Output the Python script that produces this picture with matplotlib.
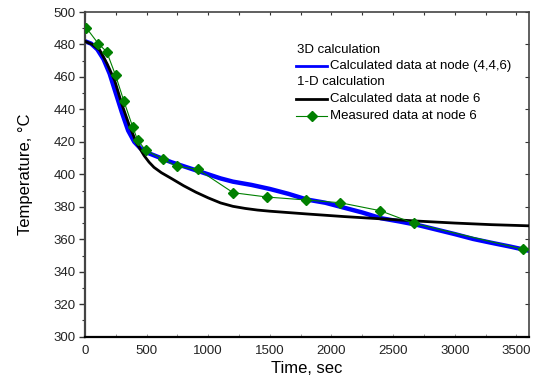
import matplotlib
matplotlib.use('Agg')
import matplotlib.pyplot as plt
from matplotlib.ticker import MultipleLocator
from matplotlib.lines import Line2D

plt.rcParams['font.family'] = ['Liberation Sans', 'DejaVu Sans']

# ── Data ──────────────────────────────────────────────────
t_3d = [0, 50, 100, 150, 200, 250, 300, 350, 400, 450, 500, 600, 700, 800,
        900, 1000, 1100, 1200, 1350, 1500, 1650, 1800, 1950, 2100, 2250,
        2400, 2550, 2700, 2850, 3000, 3150, 3300, 3450, 3600]
temp_3d = [482, 480.5, 477, 471, 462, 450, 438, 427, 420, 416, 413.5, 410.5,
           407.5, 405, 402.5, 400, 397.5, 395.5, 393.5, 391, 388, 384.5,
           382.5, 379.5, 376.5, 373, 371, 368.8, 366, 363.2, 360.2, 357.8,
           355.5, 353]

t_1d = [0, 60, 120, 180, 240, 300, 360, 420, 480, 520, 560, 620, 700, 800,
        900, 1000, 1100, 1200, 1300, 1400, 1500, 1800, 2100, 2400, 2700,
        3000, 3300, 3600]
temp_1d = [482, 480, 476.5, 468, 458, 443, 430, 419, 411.5, 407.5, 404.3,
           401, 397.5, 393, 389, 385.5, 382.4, 380.3, 379, 378, 377.3, 375.6,
           374, 372.6, 371.2, 370, 369, 368.3]

t_meas = [10, 108, 176, 248, 316, 388, 426, 492, 630, 743, 918, 1202, 1480,
          1796, 2072, 2396, 2669, 3557]
temp_meas = [490.3, 480.5, 475.5, 461, 445, 429, 421.3, 414.8, 409.5, 405,
             403, 388.7, 386, 384.2, 382.5, 377.6, 369.8, 353.8]

BLUE = '#0000ff'
GREEN = '#008000'

fig = plt.figure(figsize=(5.37, 3.90), dpi=100)
ax = fig.add_axes([0.1583, 0.1367, 0.8262, 0.8325])

ax.plot(t_3d, temp_3d, color=BLUE, lw=3.2, solid_joinstyle='round', zorder=2)
ax.plot(t_1d, temp_1d, color='black', lw=2.0, zorder=3)
ax.plot(t_meas, temp_meas, color=GREEN, lw=0.8, marker='D', markersize=5.5,
        markerfacecolor=GREEN, markeredgecolor=GREEN, zorder=4)

ax.set_xlim(0, 3600)
ax.set_ylim(300, 500)
ax.xaxis.set_major_locator(MultipleLocator(500))
ax.xaxis.set_minor_locator(MultipleLocator(250))
ax.yaxis.set_major_locator(MultipleLocator(20))
ax.yaxis.set_minor_locator(MultipleLocator(10))

# Origin-style ticks: outward on the left, inward mirrors on top/right
ax.tick_params(axis='y', which='major', direction='out', length=4.5, width=1,
               labelsize=9.5, pad=2, right=False, colors='#333333',
               labelcolor='#222222')
ax.tick_params(axis='y', which='minor', direction='out', length=2.5, width=0.8,
               colors='#333333')
ax.tick_params(axis='x', which='both', direction='in', length=2, width=0.6,
               labelsize=9.5, pad=6, colors='#888888', labelcolor='#222222')
sec_r = ax.secondary_yaxis('right')
sec_r.yaxis.set_major_locator(MultipleLocator(20))
sec_r.yaxis.set_minor_locator(MultipleLocator(10))
sec_r.tick_params(which='major', direction='in', length=3, width=0.8,
                  labelright=False, colors='#333333')
sec_r.tick_params(which='minor', direction='in', length=0)
sec_r.spines['right'].set_visible(False)
sec_t = ax.secondary_xaxis('top')
sec_t.xaxis.set_major_locator(MultipleLocator(500))
sec_t.xaxis.set_minor_locator(MultipleLocator(250))
sec_t.tick_params(which='both', direction='in', length=2, width=0.8,
                  labeltop=False, colors='#333333')
sec_t.spines['top'].set_visible(False)

for side in ('left', 'bottom'):
    ax.spines[side].set_linewidth(1.6)
ax.spines['left'].set_color('#444444')
ax.spines['bottom'].set_color('black')
for side in ('top', 'right'):
    ax.spines[side].set_linewidth(1.2)
    ax.spines[side].set_color('#444444')

ax.set_xlabel('Time, sec', fontsize=12, labelpad=3)
ax.set_ylabel('Temperature, °C', fontsize=12, labelpad=15)

# ── Legend with group headers ─────────────────────────────
fs = 9.5
hx0, hx1, tx = 0.476, 0.546, 0.552
rows = [0.883, 0.835, 0.7835, 0.731, 0.6806]
ax.text(hx0 + 0.002, rows[0], '3D calculation', transform=ax.transAxes,
        fontsize=fs, va='center', ha='left')
ax.add_line(Line2D([hx0, hx1], [rows[1]] * 2, transform=ax.transAxes,
                   color=BLUE, lw=2))
ax.text(tx, rows[1], 'Calculated data at node (4,4,6)', transform=ax.transAxes,
        fontsize=fs, va='center', ha='left')
ax.text(hx0 + 0.002, rows[2], '1-D calculation', transform=ax.transAxes,
        fontsize=fs, va='center', ha='left')
ax.add_line(Line2D([hx0, hx1], [rows[3]] * 2, transform=ax.transAxes,
                   color='black', lw=2))
ax.text(tx, rows[3], 'Calculated data at node 6', transform=ax.transAxes,
        fontsize=fs, va='center', ha='left')
ax.add_line(Line2D([hx0, hx1], [rows[4]] * 2, transform=ax.transAxes,
                   color=GREEN, lw=0.8))
ax.add_line(Line2D([(hx0 + hx1) / 2], [rows[4]], transform=ax.transAxes,
                   color=GREEN, marker='D', markersize=5.5, lw=0))
ax.text(tx, rows[4], 'Measured data at node 6', transform=ax.transAxes,
        fontsize=fs, va='center', ha='left')

fig.savefig('out.png', dpi=100)
